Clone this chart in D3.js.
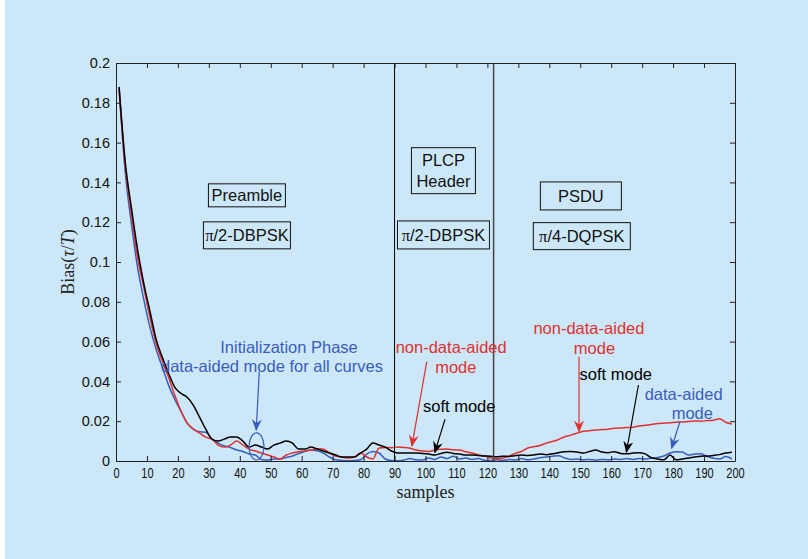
<!DOCTYPE html>
<html>
<head>
<meta charset="utf-8">
<script src="https://cdn.jsdelivr.net/npm/d3@7"></script>
<style>
  body { margin: 0; background: #fff; }
  svg { display: block; }
</style>
</head>
<body>
<script>
var width = 808,
    height = 559;

// sample index (every other sample, 1..199)
var samples = d3.range(1, 200, 2);

var softMode = [
  0.188, 0.150, 0.127, 0.106, 0.089, 0.075, 0.061, 0.052, 0.044, 0.037,
  0.034, 0.032, 0.028, 0.022, 0.016, 0.011, 0.010, 0.011, 0.012, 0.012,
  0.010, 0.007, 0.008, 0.007, 0.006, 0.008, 0.009, 0.010, 0.009, 0.006,
  0.006, 0.007, 0.006, 0.005, 0.004, 0.003, 0.002, 0.002, 0.002, 0.004,
  0.006, 0.009, 0.008, 0.007, 0.005, 0.004, 0.004, 0.004, 0.004, 0.0038,
  0.0035, 0.003, 0.0038, 0.0044, 0.0038, 0.0035, 0.003, 0.003, 0.0028, 0.0025,
  0.0024, 0.0021, 0.0024, 0.0023, 0.0027, 0.003, 0.0028, 0.003, 0.0035, 0.0032,
  0.0036, 0.0042, 0.0047, 0.0048, 0.0045, 0.004, 0.0048, 0.0055, 0.0045, 0.0042,
  0.0047, 0.0038, 0.0036, 0.004, 0.0042, 0.0036, 0.0016, 0.001, 0.0006, 0.003,
  0.0006, 0.001, 0.0015, 0.002, 0.0024, 0.0025, 0.0028, 0.0032, 0.004, 0.0044
];

var nonDataAided = [
  0.187, 0.148, 0.124, 0.102, 0.087, 0.072, 0.059, 0.050, 0.042, 0.033,
  0.025, 0.019, 0.016, 0.014, 0.012, 0.011, 0.008, 0.007, 0.008, 0.010,
  0.008, 0.006, 0.005, 0.004, 0.003, 0.002, 0.001, 0.003, 0.004, 0.0047,
  0.005, 0.0055, 0.0062, 0.006, 0.004, 0.0025, 0.002, 0.0015, 0.002, 0.004,
  0.002, 0.001, 0.0065, 0.0068, 0.0067, 0.007, 0.0068, 0.0064, 0.0055, 0.005,
  0.0048, 0.0055, 0.0059, 0.006, 0.0056, 0.0055, 0.0046, 0.004, 0.0032, 0.0025,
  0.0015, 0.0012, 0.0015, 0.0024, 0.0038, 0.0048, 0.0065, 0.0072, 0.0078, 0.009,
  0.0098, 0.0108, 0.0122, 0.013, 0.014, 0.015, 0.0152, 0.0156, 0.0158, 0.016,
  0.0164, 0.0166, 0.0168, 0.017, 0.0176, 0.018, 0.0183, 0.0188, 0.019, 0.0192,
  0.0195, 0.0196, 0.0198, 0.0201, 0.020, 0.0203, 0.0205, 0.0212, 0.0195, 0.0186
];

var dataAided = [
  0.187, 0.145, 0.119, 0.097, 0.081, 0.067, 0.056, 0.047, 0.038, 0.031,
  0.025, 0.019, 0.016, 0.0147, 0.0145, 0.011, 0.009, 0.0075, 0.0068, 0.0055,
  0.0048, 0.0035, 0.003, 0.0008, 0.0005, 0.001, 0.001, 0.0018, 0.0025, 0.0038,
  0.0048, 0.0055, 0.0052, 0.004, 0.002, 0.0006, 0.0003, 0.0001, 0.0002, 0.0006,
  0.0035, 0.0048, 0.004, 0.001, 0.0002, 0.0001, 0.0005, 0.0012, 0.0006, 0.0005,
  0.0015, 0.0008, 0.002, 0.0012, 0.0024, 0.001, 0.0015, 0.0008, 0.0012, 0.0004,
  0.0002, 0.0006, 0.0003, 0.0008, 0.0005, 0.0012, 0.0006, 0.001, 0.0016, 0.002,
  0.0024, 0.0027, 0.0015, 0.0008, 0.001, 0.0006, 0.0008, 0.0004, 0.0008, 0.0006,
  0.001, 0.0008, 0.0012, 0.0008, 0.0012, 0.001, 0.0015, 0.0018, 0.0025, 0.004,
  0.0047, 0.0045, 0.003, 0.0035, 0.0037, 0.0022, 0.0014, 0.001, 0.0022, 0.001
];

var xTicks = d3.range(0, 201, 10);
var yTicks = [0, 0.02, 0.04, 0.06, 0.08, 0.1, 0.12, 0.14, 0.16, 0.18, 0.2];
var yTickLabels = ["0", "0.02", "0.04", "0.06", "0.08", "0.1", "0.12", "0.14", "0.16", "0.18", "0.2"];
var boundaries = [90, 122];

var blue = "#3a5cbc", red = "#e0302f";
var sans = "Arial, 'Liberation Sans', sans-serif";

var svg = d3.select("body").append("svg")
    .attr("width", width)
    .attr("height", height)
    .attr("font-family", sans);

svg.append("rect")
    .attr("x", 5).attr("y", 0)
    .attr("width", width - 5).attr("height", height)
    .attr("fill", "#cce8f8");

var x = d3.scaleLinear().domain([0, 200]).range([116, 735]);
var y = d3.scaleLinear().domain([0, 0.2]).range([461, 63]);

var defs = svg.append("defs");
[["blue", blue], ["red", red], ["black", "#000"]].forEach(function(c) {
    defs.append("marker")
        .attr("id", "arr-" + c[0])
        .attr("viewBox", "0 -5 12 10")
        .attr("refX", 11).attr("refY", 0)
        .attr("markerWidth", 12).attr("markerHeight", 10)
        .attr("markerUnits", "userSpaceOnUse")
        .attr("orient", "auto")
        .append("path")
        .attr("d", "M0,-5L12,0L0,5L4,0Z")
        .attr("fill", c[1]);
});

// curves
var line = d3.line()
    .x(function(d) { return x(d[0]); })
    .y(function(d) { return y(d[1]); })
    .curve(d3.curveMonotoneX);

var plot = svg.append("g");
[[dataAided, blue], [nonDataAided, red], [softMode, "#000"]].forEach(function(s) {
    plot.append("path")
        .attr("d", line(samples.map(function(t, i) { return [t, s[0][i]]; })))
        .attr("fill", "none")
        .attr("stroke", s[1])
        .attr("stroke-width", 1.5);
});

// section boundaries
boundaries.forEach(function(b, i) {
    svg.append("line")
        .attr("x1", x(b)).attr("x2", x(b))
        .attr("y1", y(0.2)).attr("y2", y(0))
        .attr("stroke", i ? "#444" : "#000")
        .attr("stroke-width", i ? 1.5 : 1);
});

// axes (boxed, ticks inward)
function styleAxis(g) {
    g.select(".domain").attr("stroke", "#222");
    g.selectAll(".tick line").attr("stroke", "#222");
    g.attr("font-family", sans);
}
var axBottom = svg.append("g")
    .attr("transform", "translate(0," + y(0) + ")")
    .call(d3.axisBottom(x).tickValues(xTicks).tickSizeInner(-5).tickSizeOuter(0).tickPadding(7))
    .call(styleAxis);
axBottom.selectAll("text")
    .attr("font-size", 14.5)
    .attr("fill", "#111")
    .attr("transform", "scale(0.76,1)");

svg.append("g")
    .attr("transform", "translate(0," + y(0.2) + ")")
    .call(d3.axisTop(x).tickValues(xTicks).tickSizeInner(-5).tickSizeOuter(0).tickFormat(""))
    .call(styleAxis);

svg.append("g")
    .attr("transform", "translate(" + x(0) + ",0)")
    .call(d3.axisLeft(y).tickValues(yTicks).tickSizeInner(-5).tickSizeOuter(0).tickPadding(6)
        .tickFormat(function(d, i) { return yTickLabels[i]; }))
    .call(styleAxis)
    .selectAll("text")
    .attr("font-size", 14.5)
    .attr("fill", "#111");

svg.append("g")
    .attr("transform", "translate(" + x(200) + ",0)")
    .call(d3.axisRight(y).tickValues(yTicks).tickSizeInner(-5).tickSizeOuter(0).tickFormat(""))
    .call(styleAxis);

// axis titles
svg.append("text")
    .attr("x", (x(0) + x(200)) / 2).attr("y", 498)
    .attr("text-anchor", "middle")
    .attr("font-family", "'Liberation Serif', 'DejaVu Serif', serif")
    .attr("font-size", 18)
    .attr("fill", "#222")
    .text("samples");

var yl = svg.append("text")
    .attr("transform", "translate(74," + ((y(0) + y(0.2)) / 2) + ") rotate(-90)")
    .attr("text-anchor", "middle")
    .attr("font-family", "'Liberation Serif', 'DejaVu Serif', serif")
    .attr("font-size", 18)
    .attr("fill", "#222");
yl.append("tspan").text("Bias(");
yl.append("tspan").attr("font-style", "italic").text("τ");
yl.append("tspan").text("/");
yl.append("tspan").attr("font-style", "italic").text("T");
yl.append("tspan").text(")");

// section boxes
function box(cx, cy, w, h, lines) {
    svg.append("rect")
        .attr("x", x(cx) - w / 2).attr("y", y(cy) - h / 2)
        .attr("width", w).attr("height", h)
        .attr("fill", "none").attr("stroke", "#111").attr("stroke-width", 1);
    lines.forEach(function(t, i) {
        var tx = svg.append("text")
            .attr("x", x(cx))
            .attr("y", y(cy) + 6 + (i - (lines.length - 1) / 2) * 21)
            .attr("text-anchor", "middle")
            .attr("font-size", 16.5)
            .attr("fill", "#111");
        if (t.charAt(0) === "π") {
            tx.append("tspan").attr("font-family", "'Liberation Serif', serif").text("π");
            tx.append("tspan").text(t.slice(1));
        } else {
            tx.text(t);
        }
    });
}
box(42.3, 0.1335, 77, 23, ["Preamble"]);
box(42.3, 0.1134, 87, 27, ["π/2-DBPSK"]);
box(105.8, 0.1459, 64, 46, ["PLCP", "Header"]);
box(105.8, 0.1136, 92, 28, ["π/2-DBPSK"]);
box(150.2, 0.1332, 81, 28, ["PSDU"]);
box(150.5, 0.1130, 97, 27, ["π/4-DQPSK"]);

// annotations
function label(t, tx, ty, color) {
    svg.append("text")
        .attr("x", x(tx)).attr("y", y(ty))
        .attr("text-anchor", "middle")
        .attr("font-size", 16.5)
        .attr("fill", color)
        .text(t);
}
function arrow(x1, y1, x2, y2, color, id) {
    svg.append("line")
        .attr("x1", x(x1)).attr("y1", y(y1))
        .attr("x2", x(x2)).attr("y2", y(y2))
        .attr("stroke", color).attr("stroke-width", 1.2)
        .attr("marker-end", "url(#arr-" + id + ")");
}

label("Initialization Phase", 55.9, 0.0542, blue);
label("data-aided mode for all curves", 50.4, 0.0446, blue);
arrow(46.3, 0.0449, 45.3, 0.0155, blue, "blue");
svg.append("ellipse")
    .attr("cx", x(45.4)).attr("cy", y(0.0073))
    .attr("rx", x(2.4) - x(0)).attr("ry", y(0) - y(0.0068))
    .attr("fill", "none").attr("stroke", blue).attr("stroke-width", 1.2);

label("non-data-aided", 108.3, 0.0542, red);
label("mode", 109.8, 0.0442, red);
arrow(100.4, 0.0499, 95.6, 0.0075, red, "red");

label("soft mode", 110.9, 0.0244, "#000");
arrow(106.3, 0.0209, 103.0, 0.0043, "#000", "black");

label("non-data-aided", 152.8, 0.0639, red);
label("mode", 154.6, 0.0538, red);
arrow(149.6, 0.0524, 149.6, 0.0148, red, "red");

label("soft mode", 161.5, 0.0409, "#000");
arrow(168.8, 0.0382, 164.9, 0.0044, "#000", "black");

label("data-aided", 183.4, 0.0308, blue);
label("mode", 186.2, 0.0213, blue);
arrow(182.2, 0.0197, 179.5, 0.0064, blue, "blue");
</script>
</body>
</html>
